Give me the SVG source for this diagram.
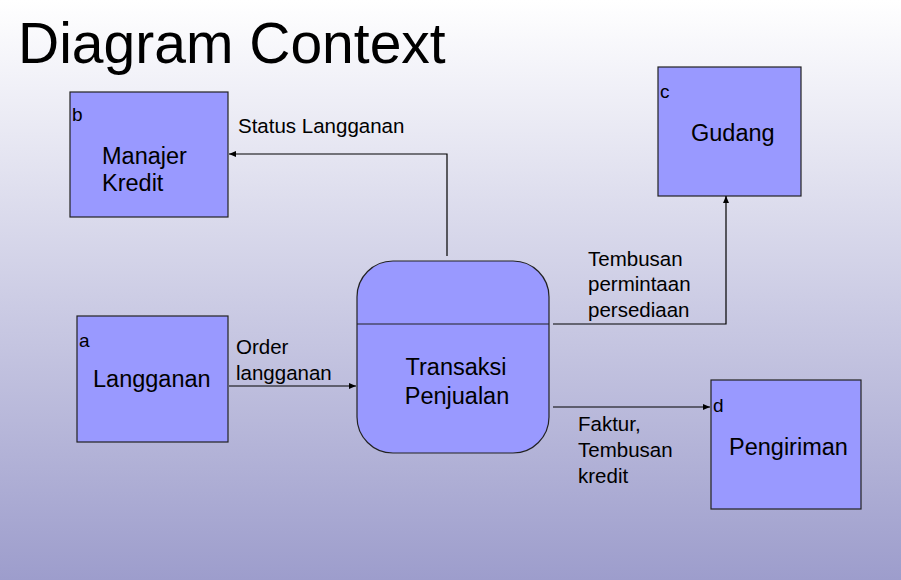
<svg xmlns="http://www.w3.org/2000/svg" width="901" height="580" viewBox="0 0 901 580">
<defs>
<linearGradient id="bg" x1="0" y1="0" x2="0" y2="1"><stop offset="0" stop-color="#ffffff"/><stop offset="1" stop-color="#9d9dcc"/></linearGradient>
<marker id="ar" markerWidth="8" markerHeight="8" refX="7" refY="4" orient="auto" markerUnits="userSpaceOnUse"><path d="M0,1 L7,4 L0,7 z" fill="#000"/></marker>
<style>
.n{fill:#9999ff;stroke:#222;stroke-width:1.2}
text{font-family:"Liberation Sans",Arial,sans-serif;fill:#000}
.t{font-size:23.5px}.s{font-size:19px}.l{font-size:20.5px}
.c{fill:none;stroke:#000;stroke-width:1.2;marker-end:url(#ar)}
</style>
</defs>
<rect width="901" height="580" fill="url(#bg)"/>
<text x="18" y="63" font-size="57">Diagram Context</text>
<g id="b"><rect class="n" x="70" y="92" width="158" height="125"/><text x="72" y="121" class="s">b</text><text x="102" y="164" class="t">Manajer</text><text x="102" y="191" class="t">Kredit</text></g>
<g id="c"><rect class="n" x="658" y="67" width="143" height="129"/><text x="660" y="98" class="s">c</text><text x="691" y="141" class="t">Gudang</text></g>
<g id="a"><rect class="n" x="77" y="316" width="151" height="126"/><text x="79" y="347" class="s">a</text><text x="93" y="387" class="t">Langganan</text></g>
<g id="d"><rect class="n" x="711" y="380" width="150" height="129"/><text x="713" y="412" class="s">d</text><text x="729" y="455" class="t">Pengiriman</text></g>
<g id="p"><rect class="n" x="357" y="261" width="192" height="192" rx="36"/><line x1="357" y1="324" x2="549" y2="324" stroke="#222" stroke-width="1.2"/><text x="456" y="375" class="t" text-anchor="middle">Transaksi</text><text x="457" y="404" class="t" text-anchor="middle">Penjualan</text></g>
<g id="connectors">
<path class="c" d="M447,256 V154 H229"/>
<path class="c" d="M553,324 H726 V196"/>
<path class="c" d="M229,386 H356"/>
<path class="c" d="M553,407 H710"/>
</g>
<g class="l">
<text x="238" y="133">Status Langganan</text>
<text x="236" y="354">Order</text><text x="236" y="380">langganan</text>
<text x="588" y="266">Tembusan</text><text x="588" y="291">permintaan</text><text x="588" y="317">persediaan</text>
<text x="578" y="431">Faktur,</text><text x="578" y="457">Tembusan</text><text x="578" y="483">kredit</text>
</g>
</svg>
